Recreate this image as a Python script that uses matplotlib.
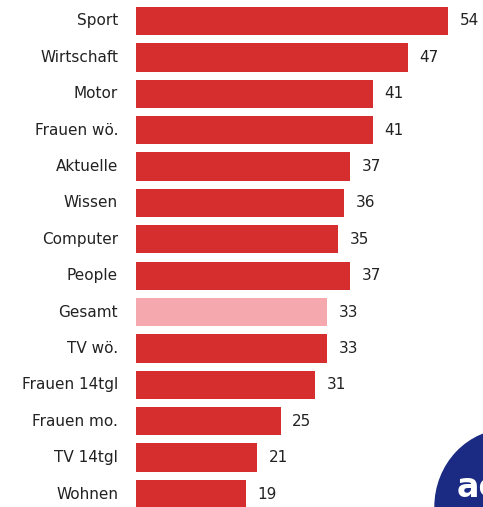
import matplotlib
matplotlib.use("Agg")
import matplotlib.pyplot as plt
from matplotlib.patches import Circle

categories = ["Sport", "Wirtschaft", "Motor", "Frauen wö.", "Aktuelle", "Wissen",
              "Computer", "People", "Gesamt", "TV wö.", "Frauen 14tgl",
              "Frauen mo.", "TV 14tgl", "Wohnen"]
values = [54, 47, 41, 41, 37, 36, 35, 37, 33, 33, 31, 25, 21, 19]
highlight = "Gesamt"

red = "#D62E2F"
pink = "#F5A8AE"
text_col = "#222222"

fig = plt.figure(figsize=(4.83, 5.07), dpi=100)
ax = fig.add_axes([136 / 483, 0, 347 / 483, 1])

ypos = list(range(len(categories)))
colors = [pink if c == highlight else red for c in categories]
ax.barh(ypos, values, height=0.78, color=colors, edgecolor="none")

ax.set_xlim(0, 60)
ax.set_ylim(13.357, -0.577)
ax.axis("off")

for y, c, v in zip(ypos, categories, values):
    ax.text(-3.1, y, c, ha="right", va="center", fontsize=11, color=text_col,
            family="DejaVu Sans")
    ax.text(v + 2.0, y, str(v), ha="left", va="center", fontsize=11,
            color=text_col, family="DejaVu Sans")

# partial logo in bottom-right corner
circ = Circle((509 / 483, 1 - 507 / 507), 74 / 483, transform=fig.transFigure,
              color="#1B2A82", zorder=5, clip_on=False)
fig.patches.append(circ)
fig.text(457 / 483, 1 - 497 / 507, "ac", color="white", fontsize=24,
         fontweight="bold", ha="left", va="baseline", zorder=6)

fig.savefig("out.png", dpi=100)
